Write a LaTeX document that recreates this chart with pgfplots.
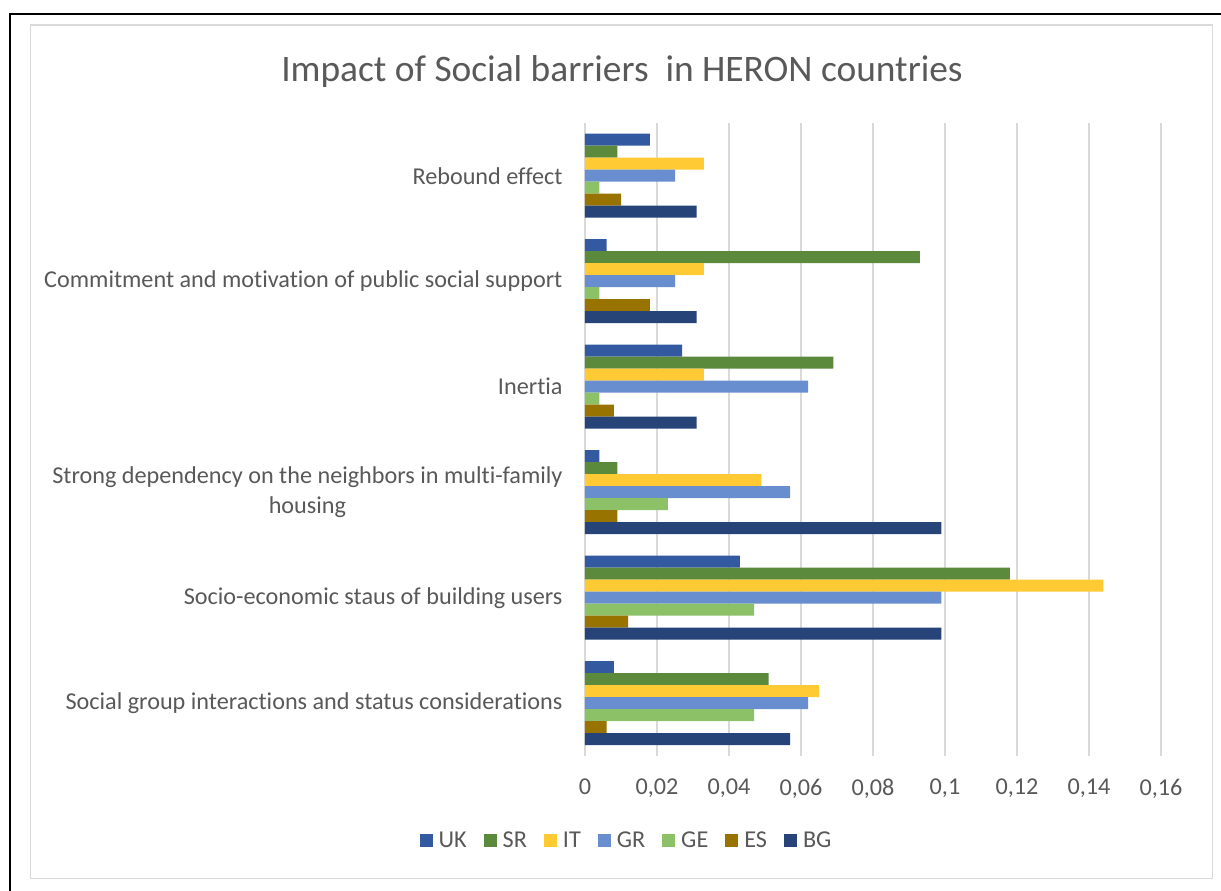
\documentclass[border=0pt]{standalone}
\usepackage{pgfplots}
\usepackage{pgfplotstable}
\pgfplotsset{compat=1.18}
\usepackage{fontspec}
\setmainfont{Carlito}[Ligatures=NoCommon]
\definecolor{cUK}{HTML}{335AA1}
\definecolor{cSR}{HTML}{5B8A3C}
\definecolor{cIT}{HTML}{FFCA33}
\definecolor{cGR}{HTML}{698ED0}
\definecolor{cGE}{HTML}{8CC168}
\definecolor{cES}{HTML}{997300}
\definecolor{cBG}{HTML}{264478}
\definecolor{txt}{HTML}{595959}
\definecolor{grd}{HTML}{D9D9D9}
\pgfplotstableread{
y UK SR IT GR GE ES BG
0 0.008 0.051 0.065 0.062 0.047 0.006 0.057
1 0.043 0.118 0.144 0.099 0.047 0.012 0.099
2 0.004 0.009 0.049 0.057 0.023 0.009 0.099
3 0.027 0.069 0.033 0.062 0.004 0.008 0.031
4 0.006 0.093 0.033 0.025 0.004 0.018 0.031
5 0.018 0.009 0.033 0.025 0.004 0.010 0.031
}\datatable
\begin{document}
\begin{tikzpicture}
\path[use as bounding box] (0pt,0pt) rectangle (1221pt,891pt);
\fill[white] (0pt,0pt) rectangle (1221pt,891pt);
\draw[black, line width=2pt] (10pt,-10pt) -- (10pt,877pt) -- (1240pt,877pt);
\draw[grd, line width=1.5pt] (30.5pt,12.7pt) rectangle (1212.7pt,866pt);
\node[text=txt, font=\fontsize{37.4}{44}\selectfont] at (622pt,819pt) {Impact of Social barriers \ in HERON countries};
\begin{axis}[
  at={(585pt,135pt)}, anchor=south west,
  scale only axis, width=576pt, height=633pt,
  xbar, bar width=12pt,
  xmin=0, xmax=0.16, ymin=-0.5, ymax=5.5,
  axis line style={draw=none},
  xtick={0,0.02,0.04,0.06,0.08,0.1,0.12,0.14,0.16},
  xticklabels={0,{0,02},{0,04},{0,06},{0,08},{0,1},{0,12},{0,14},{0,16}},
  xmajorgrids, major grid style={grd, line width=2.2pt},
  xtick style={draw=none}, ytick style={draw=none},
  ytick={0,1,2,3,4,5},
  yticklabels={Social group interactions and status considerations,
    Socio-economic staus of building users,
    {Strong dependency on the neighbors in multi-family\\housing},
    Inertia,
    Commitment and motivation of public social support,
    Rebound effect},
  yticklabel style={align=center, inner sep=0pt, xshift=-18pt, text=txt, font=\fontsize{24.2}{30}\selectfont},
  xticklabel style={inner sep=0pt, yshift=-23pt, text=txt, font=\fontsize{24.2}{30}\selectfont},
  legend columns=7,
  legend style={at={(0.0721,-0.1327)}, anchor=center, draw=none, fill=none,
    text=txt, font=\fontsize{24.2}{30}\selectfont,
    /tikz/every odd column/.append style={column sep=4pt},
    /tikz/every even column/.append style={column sep=15pt}},
  legend image code/.code={\fill[#1] (0pt,-6.5pt) rectangle (13pt,6.5pt);},
  every axis plot/.append style={draw=none},
]
\addplot[fill=cUK, bar shift=36pt] table[x=UK, y=y] {\datatable};
\addplot[fill=cSR, bar shift=24pt] table[x=SR, y=y] {\datatable};
\addplot[fill=cIT, bar shift=12pt] table[x=IT, y=y] {\datatable};
\addplot[fill=cGR, bar shift=0pt] table[x=GR, y=y] {\datatable};
\addplot[fill=cGE, bar shift=-12pt] table[x=GE, y=y] {\datatable};
\addplot[fill=cES, bar shift=-24pt] table[x=ES, y=y] {\datatable};
\addplot[fill=cBG, bar shift=-36pt] table[x=BG, y=y] {\datatable};
\legend{UK,SR,IT,GR,GE,ES,BG}
\end{axis}
\end{tikzpicture}
\end{document}
